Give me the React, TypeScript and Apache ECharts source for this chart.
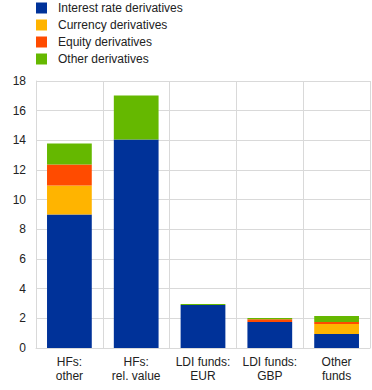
import React, { useEffect, useRef } from "react";
import * as echarts from "echarts";

const categories = ["HFs:\nother", "HFs:\nrel. value", "LDI funds:\nEUR", "LDI funds:\nGBP", "Other\nfunds"];
const interestRate = [9.0, 14.05, 2.9, 1.75, 0.94];
const currency = [1.95, 0, 0, 0, 0.68];
const equity = [1.42, 0, 0, 0.18, 0.13];
const other = [1.42, 2.98, 0.07, 0.09, 0.4];
const yTicks = [0, 2, 4, 6, 8, 10, 12, 14, 16, 18];

const seriesNames = ["Interest rate derivatives", "Currency derivatives", "Equity derivatives", "Other derivatives"];
const colors = ["#003299", "#FFB400", "#FF4B00", "#65B800"];

export default function App() {
  const ref = useRef<HTMLDivElement>(null);
  useEffect(() => {
    if (!ref.current) return;
    const chart = echarts.init(ref.current, undefined, { renderer: "svg" });
    const data = [interestRate, currency, equity, other];
    chart.setOption({
      animation: false,
      textStyle: { fontFamily: "Liberation Sans, Arial, sans-serif" },
      legend: {
        orient: "vertical",
        left: 36,
        top: 2,
        padding: 0,
        itemWidth: 11,
        itemHeight: 11,
        itemGap: 5,
        icon: "rect",
        textStyle: { fontSize: 12, color: "#222", padding: [0, 0, 0, 6] },
        data: seriesNames,
      },
      grid: { left: 36, right: 2, top: 81, bottom: 42, containLabel: false },
      xAxis: {
        type: "category",
        data: categories,
        axisLine: { show: true, lineStyle: { color: "#d9d9d9" } },
        axisTick: { show: false },
        splitLine: { show: true, interval: 0, lineStyle: { color: "#d9d9d9" } },
        axisLabel: { fontSize: 12, color: "#222", lineHeight: 14, margin: 7, interval: 0 },
      },
      yAxis: {
        type: "value",
        min: yTicks[0],
        max: yTicks[yTicks.length - 1],
        interval: 2,
        axisLine: { show: true, lineStyle: { color: "#d9d9d9" } },
        axisTick: { show: false },
        splitLine: { show: true, lineStyle: { color: "#d9d9d9" } },
        axisLabel: { fontSize: 12, color: "#222", margin: 10 },
      },
      series: seriesNames.map((name, i) => ({
        name,
        type: "bar",
        stack: "total",
        barWidth: "67%",
        data: data[i],
        itemStyle: { color: colors[i] },
      })),
    });
    return () => chart.dispose();
  }, []);
  return (
    <div
      ref={ref}
      style={{ position: "fixed", left: 0, top: 0, width: 372, height: 390, background: "#fff" }}
    />
  );
}
